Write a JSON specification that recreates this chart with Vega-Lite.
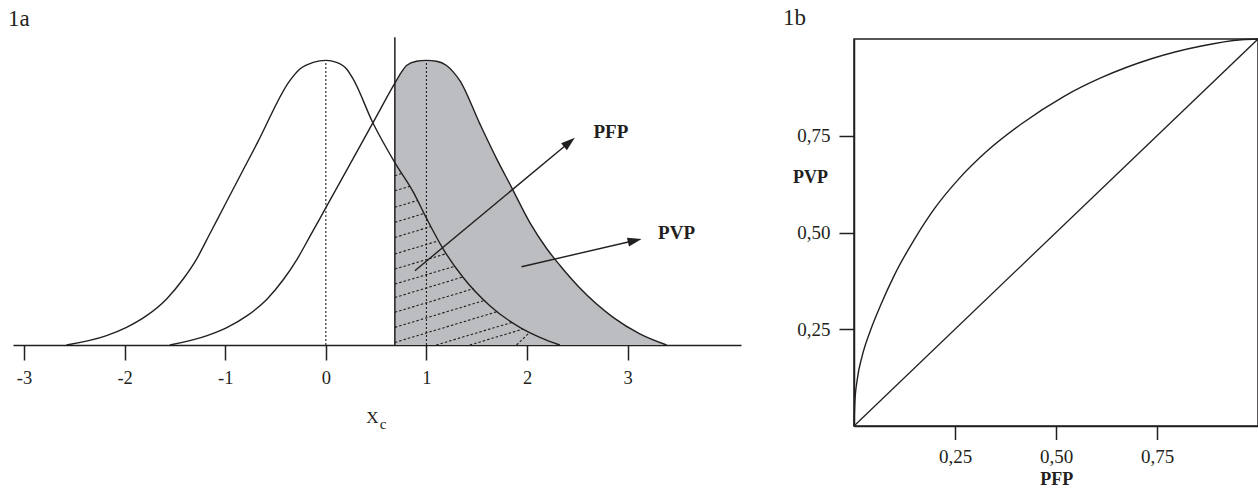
{
  "$schema": "https://vega.github.io/schema/vega-lite/v6.json",
  "background": "white",
  "padding": {"left": 8, "top": 6, "right": 0, "bottom": 4},
  "spacing": 41,
  "config": {
    "font": "Liberation Serif",
    "view": {"stroke": null},
    "axis": {"grid": false, "domainColor": "#231f20", "tickColor": "#231f20", "labelColor": "#231f20", "titleColor": "#231f20", "labelFont": "Liberation Serif", "titleFont": "Liberation Serif", "domainWidth": 1.5, "tickWidth": 1.5, "labelFlush": false, "labelOverlap": false},
    "title": {"font": "Liberation Serif", "fontWeight": "normal", "fontSize": 23, "color": "#231f20", "anchor": "start", "frame": "group", "baseline": "alphabetic", "offset": 6}
  },
  "datasets": {
    "h0": [{"x":-2.578,"h":0},{"x":-2.18,"h":0.033},{"x":-1.981,"h":0.062},{"x":-1.782,"h":0.103},{"x":-1.583,"h":0.162},{"x":-1.418,"h":0.232},{"x":-1.285,"h":0.302},{"x":-1.153,"h":0.391},{"x":-1.004,"h":0.492},{"x":-0.68,"h":0.711},{"x":-0.358,"h":0.929},{"x":-0.258,"h":0.97},{"x":-0.126,"h":0.993},{"x":0,"h":1},{"x":0.106,"h":0.993},{"x":0.206,"h":0.97},{"x":0.271,"h":0.935},{"x":0.467,"h":0.781},{"x":0.686,"h":0.641},{"x":0.868,"h":0.538},{"x":1.001,"h":0.445},{"x":1.167,"h":0.337},{"x":1.365,"h":0.237},{"x":1.63,"h":0.138},{"x":1.928,"h":0.062},{"x":2.127,"h":0.027},{"x":2.326,"h":0}],
    "h1": [{"x":-1.551,"h":0},{"x":-1.18,"h":0.033},{"x":-0.98,"h":0.062},{"x":-0.782,"h":0.103},{"x":-0.583,"h":0.162},{"x":-0.418,"h":0.232},{"x":-0.285,"h":0.302},{"x":-0.153,"h":0.385},{"x":-0.004,"h":0.48},{"x":0.235,"h":0.632},{"x":0.47,"h":0.782},{"x":0.686,"h":0.92},{"x":0.75,"h":0.958},{"x":0.802,"h":0.982},{"x":0.9,"h":0.997},{"x":1.0,"h":1.0},{"x":1.1,"h":0.997},{"x":1.2,"h":0.982},{"x":1.27,"h":0.958},{"x":1.332,"h":0.929},{"x":1.531,"h":0.777},{"x":1.697,"h":0.655},{"x":1.846,"h":0.554},{"x":2.028,"h":0.43},{"x":2.193,"h":0.34},{"x":2.326,"h":0.28},{"x":2.525,"h":0.2},{"x":2.856,"h":0.097},{"x":3.121,"h":0.039},{"x":3.387,"h":0}],
    "hatch": [{"x":0.686,"h":0.595,"x2":0.757,"h2":0.603},{"x":0.686,"h":0.542,"x2":0.838,"h2":0.558},{"x":0.686,"h":0.484,"x2":0.913,"h2":0.508},{"x":0.686,"h":0.431,"x2":0.975,"h2":0.462},{"x":0.686,"h":0.378,"x2":1.042,"h2":0.416},{"x":0.686,"h":0.32,"x2":1.121,"h2":0.366},{"x":0.686,"h":0.267,"x2":1.198,"h2":0.321},{"x":0.686,"h":0.214,"x2":1.285,"h2":0.277},{"x":0.686,"h":0.167,"x2":1.362,"h2":0.239},{"x":0.686,"h":0.115,"x2":1.469,"h2":0.198},{"x":0.686,"h":0.062,"x2":1.58,"h2":0.157},{"x":0.686,"h":0.009,"x2":1.71,"h2":0.118},{"x":1.097,"h":0,"x2":1.856,"h2":0.08},{"x":1.431,"h":0,"x2":1.961,"h2":0.056},{"x":1.896,"h":0,"x2":2.027,"h2":0.0445}],
    "peaks": [{"x":0,"h":0,"h2":1},{"x":1,"h":0,"h2":1}],
    "cutoff": [{"x":0.686,"h":0,"h2":1.081}],
    "arrows": [{"name":"PFP","x":0.885,"h":0.261,"x2":2.421,"h2":0.7126},{"name":"PVP","x":1.945,"h":0.275,"x2":3.071,"h2":0.367}],
    "heads": [{"name":"PFP","x":2.421,"h":0.7126},{"name":"PVP","x":3.071,"h":0.367}],
    "notes": [{"text":"PFP","x":2.833,"h":0.729},{"text":"PVP","x":3.486,"h":0.3725}],
    "sub": [{"text":"c","x":0.57,"h":-0.294}],
    "roc": [{"fpr":0,"tpr":0},{"fpr":0.002,"tpr":0.06},{"fpr":0.008,"tpr":0.12},{"fpr":0.02,"tpr":0.18},{"fpr":0.04,"tpr":0.245},{"fpr":0.065,"tpr":0.31},{"fpr":0.1,"tpr":0.39},{"fpr":0.151,"tpr":0.485},{"fpr":0.2,"tpr":0.563},{"fpr":0.259,"tpr":0.638},{"fpr":0.33,"tpr":0.711},{"fpr":0.415,"tpr":0.781},{"fpr":0.52,"tpr":0.852},{"fpr":0.612,"tpr":0.9},{"fpr":0.736,"tpr":0.949},{"fpr":0.86,"tpr":0.982},{"fpr":0.959,"tpr":0.998},{"fpr":1,"tpr":1}],
    "diag": [{"fpr":0,"tpr":0},{"fpr":1,"tpr":1}]
  },
  "hconcat": [
    {
      "width": 728,
      "height": 306,
      "title": {"text": "1a", "dx": -5},
      "encoding": {
        "x": {"field": "x", "type": "quantitative", "scale": {"domain": [-3.11, 4.127], "nice": false, "zero": false},
          "axis": {"values": [-3,-2,-1,0,1,2,3], "tickSize": 15, "labelPadding": 8, "labelFontSize": 18.5, "labelExpr": "(datum.value < 0 ? '-' : '') + abs(datum.value)", "title": "X", "titleFontSize": 17, "titleFontWeight": "normal", "titleX": 359, "titleY": 77.4, "titleAlign": "center", "titleBaseline": "alphabetic"}},
        "y": {"field": "h", "type": "quantitative", "scale": {"domain": [0, 1.0752], "nice": false, "zero": false}, "axis": null}
      },
      "layer": [
        {"data": {"name": "h1"}, "transform": [{"filter": "datum.x >= 0.686"}], "mark": {"type": "area", "interpolate": "monotone", "color": "#bcbdc0"}, "encoding": {"y2": {"datum": 0}}},
        {"data": {"name": "hatch"}, "mark": {"type": "rule", "strokeDash": [2.5, 2], "strokeWidth": 1.1, "color": "#231f20"}, "encoding": {"x2": {"field": "x2"}, "y2": {"field": "h2"}}},
        {"data": {"name": "h0"}, "mark": {"type": "line", "interpolate": "monotone", "color": "#231f20", "strokeWidth": 1.4}},
        {"data": {"name": "h1"}, "mark": {"type": "line", "interpolate": "monotone", "color": "#231f20", "strokeWidth": 1.4}},
        {"data": {"name": "peaks"}, "mark": {"type": "rule", "strokeDash": [2, 2], "strokeWidth": 1.1, "color": "#231f20"}, "encoding": {"y2": {"field": "h2"}}},
        {"data": {"name": "cutoff"}, "mark": {"type": "rule", "strokeWidth": 1.5, "color": "#231f20"}, "encoding": {"y2": {"field": "h2"}}},
        {"data": {"name": "arrows"}, "mark": {"type": "rule", "strokeWidth": 1.4, "color": "#231f20"}, "encoding": {"x2": {"field": "x2"}, "y2": {"field": "h2"}}},
        {"data": {"name": "heads"}, "transform": [{"filter": "datum.name == 'PFP'"}], "mark": {"type": "point", "shape": "M0,-1L0.65,1L-0.65,1Z", "size": 196, "filled": true, "opacity": 1, "color": "#231f20", "angle": 50.3}},
        {"data": {"name": "heads"}, "transform": [{"filter": "datum.name == 'PVP'"}], "mark": {"type": "point", "shape": "M0,-1L0.65,1L-0.65,1Z", "size": 196, "filled": true, "opacity": 1, "color": "#231f20", "angle": 77}},
        {"data": {"name": "notes"}, "mark": {"type": "text", "fontWeight": "bold", "fontSize": 19, "align": "center", "baseline": "alphabetic", "color": "#231f20"}, "encoding": {"text": {"field": "text"}}},
        {"data": {"name": "sub"}, "mark": {"type": "text", "fontSize": 15, "align": "center", "baseline": "alphabetic", "color": "#231f20"}, "encoding": {"text": {"field": "text"}}}
      ]
    },
    {
      "width": 404,
      "height": 387,
      "title": {"text": "1b", "dx": -71},
      "view": {"stroke": "#231f20", "strokeWidth": 1.5},
      "encoding": {
        "x": {"field": "fpr", "type": "quantitative", "scale": {"domain": [0, 1], "nice": false},
          "axis": {"values": [0.25, 0.5, 0.75], "tickSize": 13.5, "labelPadding": 8, "labelFontSize": 19, "labelExpr": "replace(format(datum.value, '.2f'), '.', ',')", "title": "PFP", "titleFontSize": 18, "titleFontWeight": "bold", "titleX": 202.3, "titleY": 58.5, "titleAlign": "center", "titleBaseline": "alphabetic"}},
        "y": {"field": "tpr", "type": "quantitative", "scale": {"domain": [0, 1], "nice": false},
          "axis": {"values": [0.25, 0.5, 0.75], "tickSize": 15, "labelPadding": 9, "labelFontSize": 19, "labelExpr": "replace(format(datum.value, '.2f'), '.', ',')", "title": "PVP", "titleAngle": 0, "titleFontSize": 18, "titleFontWeight": "bold", "titleX": -44, "titleY": 143.4, "titleAlign": "center", "titleBaseline": "alphabetic"}}
      },
      "layer": [
        {"data": {"name": "roc"}, "mark": {"type": "line", "interpolate": "monotone", "color": "#231f20", "strokeWidth": 1.4}},
        {"data": {"name": "diag"}, "mark": {"type": "line", "color": "#231f20", "strokeWidth": 1.3}}
      ]
    }
  ]
}
